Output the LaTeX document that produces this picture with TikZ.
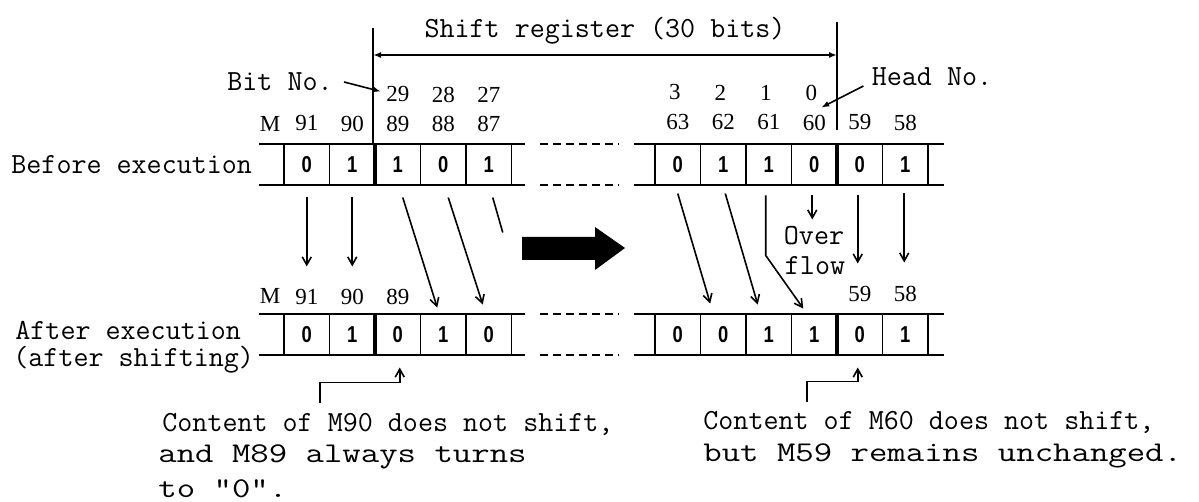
\documentclass[tikz,border=0pt]{standalone}
\usepackage{fontspec}
\usetikzlibrary{calc}
\usetikzlibrary{arrows.meta}

\newfontfamily\numfont{Liberation Serif}
\newfontfamily\bitfont[FakeStretch=0.8]{Liberation Sans}
\newcommand{\widetype}[1]{\scalebox{1.25}[1]{#1}}

\begin{document}
\begin{tikzpicture}[x=0.5pt,y=-0.5pt,
    txt/.style={font=\ttfamily\fontsize{14.6}{17}\selectfont,inner sep=0pt},
    note/.style={font=\ttfamily\fontsize{14.3}{17}\selectfont,inner sep=0pt,anchor=base west},
    num/.style={font=\numfont\fontsize{11.5}{13}\selectfont,inner sep=0pt},
    bit/.style={font=\bitfont\bfseries\fontsize{11.5}{13}\selectfont,inner sep=0pt},
    rule/.style={line width=1pt},
    sep/.style={line width=0.9pt},
    bound/.style={line width=1.6pt},
    move/.style={line width=0.8pt,-{Straight Barb[length=4pt,width=4.5pt]}},
    point/.style={line width=0.8pt,-{Latex[length=4pt,width=3pt]}}]
            \useasboundingbox (0,0) rectangle (1199,502);

            % Define the sizes of a register row
            \def\w{45.5}  % width of one bit
            \def\h{41}  % height of a row
            \def\yb{144}  % top of row before execution
            \def\ya{314}  % top of row after execution
            \def\xl{284}  % first bit of left part
            \def\xr{655}  % first bit of right part

            % Draw the register rows
            \foreach \y in {\yb,\ya}{
                \draw[rule] (259,\y) -- (525,\y);
                \draw[rule] (259,\y+\h) -- (525,\y+\h);
                \draw[rule] (634,\y) -- (944,\y);
                \draw[rule] (634,\y+\h) -- (944,\y+\h);
                \draw[rule,dash pattern=on 4pt off 2.5pt] (540,\y) -- (619,\y);
                \draw[rule,dash pattern=on 4pt off 2.5pt] (540,\y+\h) -- (619,\y+\h);
                \foreach \i in {0,...,5} \draw[sep] (\xl+\i*\w,\y) -- ++(0,\h);
                \foreach \i in {0,...,6} \draw[sep] (\xr+\i*\w,\y) -- ++(0,\h);
                \draw[bound] (\xl+2*\w,\y) -- ++(0,\h);
                \draw[bound] (\xr+4*\w,\y) -- ++(0,\h);
            }

            % Bits before and after execution
            \foreach \v [count=\i] in {0,1,1,0,1}
                \node[bit] (bl\i) at (\xl+\i*\w-\w/2,\yb+\h/2) {\v};
            \foreach \v [count=\i] in {0,1,1,0,0,1}
                \node[bit] (br\i) at (\xr+\i*\w-\w/2,\yb+\h/2) {\v};
            \foreach \v [count=\i] in {0,1,0,1,0}
                \node[bit] (al\i) at (\xl+\i*\w-\w/2,\ya+\h/2) {\v};
            \foreach \v [count=\i] in {0,0,1,1,0,1}
                \node[bit] (ar\i) at (\xr+\i*\w-\w/2,\ya+\h/2) {\v};

            % Relay numbers and bit numbers
            \node[num] (mb) at (270,124) {M};
            \node[num] (ma) at (270,296) {M};
            \foreach \n [count=\i] in {91,90,89,88,87}
                \node[num] at ($(bl\i)+(0,-41)$) {\n};
            \foreach \n [count=\i] in {63,62,61,60,59,58}
                \node[num] at ($(br\i)+(0,-42)$) {\n};
            \foreach \n [count=\i] in {91,90,89}
                \node[num] at ($(al\i)+(0,-38)$) {\n};
            \node[num] at ($(ar5)+(0,-41)$) {59};
            \node[num] at ($(ar6)+(0,-41)$) {58};
            \node[num] (n29) at ($(bl3)+(0,-70)$) {29};
            \node[num] (n28) at ($(bl4)+(0,-70)$) {28};
            \node[num] (n27) at ($(bl5)+(0,-70)$) {27};
            \node[num] (n3) at ($(br1)+(-3,-72)$) {3};
            \node[num] (n2) at ($(br2)+(-3,-72)$) {2};
            \node[num] (n1) at ($(br3)+(-3,-72)$) {1};
            \node[num] (n0) at ($(br4)+(-3,-72)$) {0};

            % Range of the shift register
            \coordinate (sl) at (373,55);
            \coordinate (sr) at (837,55);
            \draw[line width=0.8pt] (373,28) -- (373,\yb);
            \draw[line width=0.8pt] (837,22) -- (837,130);
            \draw[line width=0.8pt,{Latex[length=4pt,width=3pt]}-{Latex[length=4pt,width=3pt]}] (sl) -- (sr);
            \node[txt] (srtext) at (605,31) {Shift register (30 bits)};

            \node[txt] (bitno) at (280,82) {Bit No.};
            \draw[point] ($(bitno.east)+(11,0)$) -- ($(n29.west)+(-5,-3)$);
            \node[txt] (headno) at (932,77) {Head No.};
            \draw[point] ($(headno.west)+(-8,9)$) -- ($(n0)+(10,15)$);

            % Row names
            \node[txt,anchor=base west] (before) at (11,174) {Before execution};
            \node[txt,anchor=base west] (after) at (15,339) {After execution};
            \node[txt,anchor=base west] (aftershift) at (13,366) {(after shifting)};

            % Shifting, left part
            \draw[move] ($(bl1)+(0,33)$) -- ($(bl1)+(0,102)$);
            \draw[move] ($(bl2)+(0,33)$) -- ($(bl2)+(0,102)$);
            \draw[move] ($(bl3)+(5,33)$) -- ($(al4)+(-6,-27)$);
            \draw[move] ($(bl4)+(5,33)$) -- ($(al5)+(-6,-30)$);
            \draw[line width=0.8pt] ($(bl5)+(4,33)$) -- ($(bl5)+(14,68)$);

            % Shifting, right part
            \draw[move] ($(br1)+(0,29)$) -- ($(ar2)+(-13,-31)$);
            \draw[move] ($(br2)+(2,29)$) -- ($(ar3)+(-11,-30)$);
            \draw[move] ($(br3)+(-3,31)$) -- ($(br3)+(-3,91)$) -- ($(ar4)+(-11,-26)$);
            \draw[move] ($(br4)+(-2,31)$) -- ($(br4)+(-2,55)$);
            \draw[move] ($(br5)+(-2,31)$) -- ($(br5)+(-2,99)$);
            \draw[move] ($(br6)+(-1,29)$) -- ($(br6)+(-1,98)$);
            \node[txt,anchor=base] (over) at (814,245) {Over};
            \node[txt,anchor=base] (flow) at (815,275) {flow};

            % Shift direction
            \fill (522,237) -- (595,237) -- (595,227) -- (625,248) -- (595,270) -- (595,260) -- (522,260) -- cycle;

            % Notes below
            \coordinate (k90) at (320,403);
            \coordinate (k60) at (807,402);
            \draw[move] (k90) |- ($(al3)+(2,48)$) -- ($(al3)+(2,33)$);
            \draw[move] (k60) |- ($(ar5)+(-2,47)$) -- ($(ar5)+(-2,33)$);
            \node[txt,anchor=base west] (note90a) at (162,431) {Content of M90 does not shift,};
            \node[note] (note90b) at (158,462) {\widetype{and M89 always turns}};
            \node[note] (note90c) at (158,497) {\widetype{to "0".}};
            \node[txt,anchor=base west] (note60a) at (703,429) {Content of M60 does not shift,};
            \node[note] (note60b) at (703,461) {\widetype{but M59 remains unchanged.}};

\end{tikzpicture}
\end{document}
